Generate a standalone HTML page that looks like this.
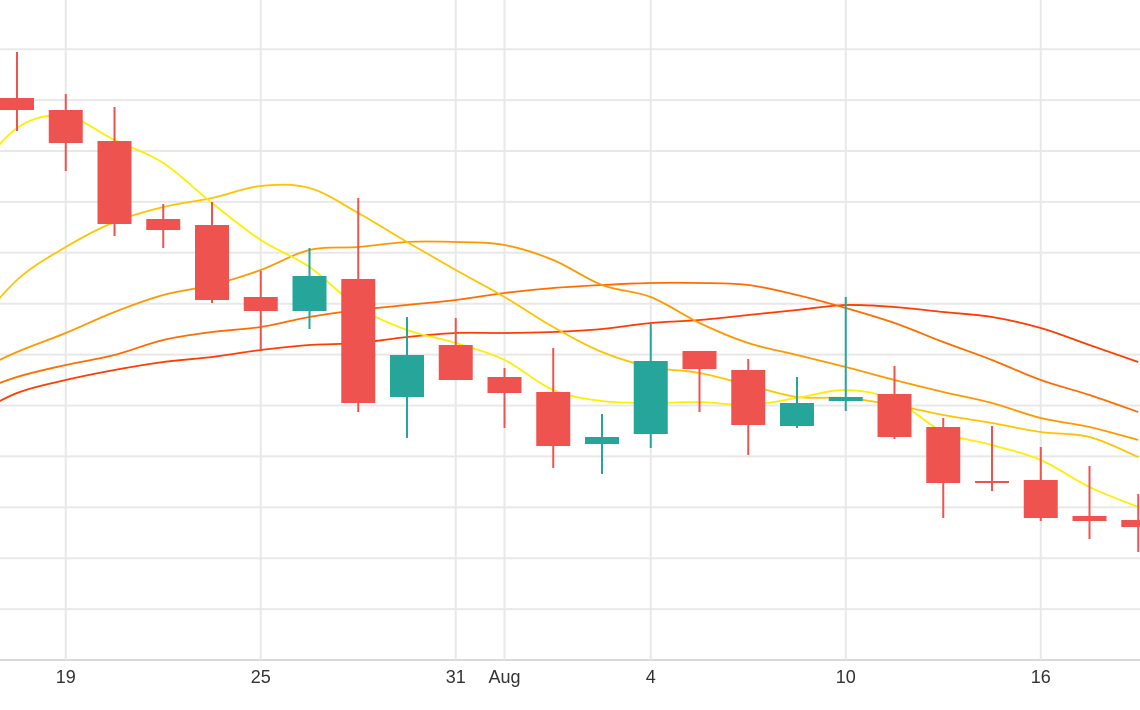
<!DOCTYPE html>
<html><head><meta charset="utf-8"><style>
html,body{margin:0;padding:0;background:#fff;}
svg{display:block;font-family:"Liberation Sans",sans-serif;}
</style></head><body>
<svg id="chart" width="1140" height="710" viewBox="0 0 1140 710" xmlns="http://www.w3.org/2000/svg">
<defs><clipPath id="plot"><rect x="0" y="0" width="1140" height="662"/></clipPath></defs>
<g id="grid"></g>
<g id="lines" clip-path="url(#plot)"></g>
<g id="candles" clip-path="url(#plot)"></g>
<g id="xaxis"></g>
</svg>
<script>
const opens  = [60.2,59.0,55.9,48.1,47.5,40.3,38.9,42.1,30.3,35.5,32.3,30.8,25.6,26.6,34.9,33.0,27.4,29.9,30.6,27.3,21.9,22.0,18.4,18.0];
const closes = [59.0,55.7,47.6,47.0,40.0,38.9,42.4,29.7,34.5,32.0,30.7,25.4,26.3,33.9,33.1,27.5,29.7,30.3,26.3,21.7,21.7,18.2,17.9,17.3];
const highs  = [64.8,60.6,59.3,49.6,49.8,42.9,45.2,50.2,38.3,38.2,33.2,35.2,28.6,37.7,34.9,34.1,32.3,40.3,33.4,28.2,27.4,25.3,23.4,20.6];
const lows   = [56.9,52.9,46.4,45.2,39.7,35.1,37.1,28.8,26.2,32.0,27.2,23.2,22.6,25.2,28.8,24.5,27.2,28.9,26.1,18.2,20.9,17.9,16.1,14.8];
// moving averages, starting at index -1
const ma1 = [51.7,57.2,58.4,56.0,53.7,49.7,46.0,43.3,39.3,37.0,35.7,34.0,31.0,29.9,29.7,29.8,29.5,30.2,31.0,30.0,26.8,25.5,24.0,21.3,19.3];
const ma2 = [36.5,42.0,45.3,47.8,49.3,50.2,51.4,51.2,48.7,45.8,43.0,40.3,37.3,34.8,33.3,32.7,31.5,30.3,30.2,29.5,28.5,27.7,26.8,26.3,24.3];
const ma3 = [32.5,34.8,36.7,38.8,40.5,41.5,43.0,45.0,45.3,45.8,45.8,45.5,44.0,41.5,40.3,37.7,35.7,34.5,33.3,32.0,30.8,29.7,28.2,27.3,26.0];
const ma4 = [30.5,32.3,33.5,34.5,36.0,36.8,37.3,38.3,39.0,39.5,40.0,40.7,41.2,41.5,41.7,41.7,41.5,40.5,39.2,37.7,35.8,34.0,32.0,30.5,28.8];
const ma5 = [28.2,30.7,32.0,33.0,33.8,34.3,35.0,35.5,35.7,36.3,36.7,36.7,36.8,37.1,37.7,38.0,38.5,39.0,39.5,39.3,38.8,38.3,37.2,35.5,33.8];
const tickIdx = [1,5,9,10,13,17,21];
const tickLabels = ["19","25","31","Aug","4","10","16"];

const NS="http://www.w3.org/2000/svg";
const xS = i => 17 + 48.75*i;
const yS = v => 700 - 10*v;
function mk(tag, attrs, parent){const e=document.createElementNS(NS,tag);for(const k in attrs)e.setAttribute(k,attrs[k]);parent.appendChild(e);return e;}
const grid=document.getElementById('grid');
for(let k=0;k<13;k++){
  const y=660-50.9*k;
  const g=mk('line',{x1:0,x2:1140,y1:y,y2:y,stroke:k===0?'#d9d9d9':'#e8e8e8','stroke-width':2},grid);
  
  
}
const xa=document.getElementById('xaxis');
tickIdx.forEach((ti,j)=>{
  const x=xS(ti);
  const g=mk('line',{x1:x,x2:x,y1:0,y2:660,stroke:'#e8e8e8','stroke-width':2},grid);
  
  
  const t=mk('text',{x:x,y:683,'text-anchor':'middle','font-size':18,fill:'#333'},xa);
  t.textContent=tickLabels[j];
  
  
});
const lg=document.getElementById('lines');
const series=[[ma5,'#ff3d00','ma-line-5'],[ma4,'#ff6d00','ma-line-4'],[ma3,'#ff9800','ma-line-3'],[ma2,'#ffc400','ma-line-2'],[ma1,'#ffee00','ma-line-1']];
series.forEach(([arr,col,name])=>{
  const pts=arr.map((v,i)=>[xS(i-1),yS(v)]);
  let d='M'+pts[0][0]+','+pts[0][1];
  for(let i=0;i<pts.length-1;i++){
    const p0=pts[Math.max(0,i-1)],p1=pts[i],p2=pts[i+1],p3=pts[Math.min(pts.length-1,i+2)];
    const c1=[p1[0]+(p2[0]-p0[0])/6,p1[1]+(p2[1]-p0[1])/6];
    const c2=[p2[0]-(p3[0]-p1[0])/6,p2[1]-(p3[1]-p1[1])/6];
    d+=' C'+c1[0]+','+c1[1]+' '+c2[0]+','+c2[1]+' '+p2[0]+','+p2[1];
  }
  const p=mk('path',{d:d,fill:'none',stroke:col,'stroke-width':1.8},lg);
  
  
});
const cg=document.getElementById('candles');
opens.forEach((o,i)=>{
  const c=closes[i],up=c>=o,col=up?'#26a69a':'#ef5350',x=xS(i);
  const w=mk('line',{x1:x,x2:x,y1:yS(highs[i]),y2:yS(lows[i]),stroke:col,'stroke-width':2},cg);
  
  
  const top=yS(Math.max(o,c)),bot=yS(Math.min(o,c));
  const r=mk('rect',{x:x-17,y:top,width:34,height:Math.max(2,bot-top),fill:col},cg);
  
  
});
</script>
</body></html>
